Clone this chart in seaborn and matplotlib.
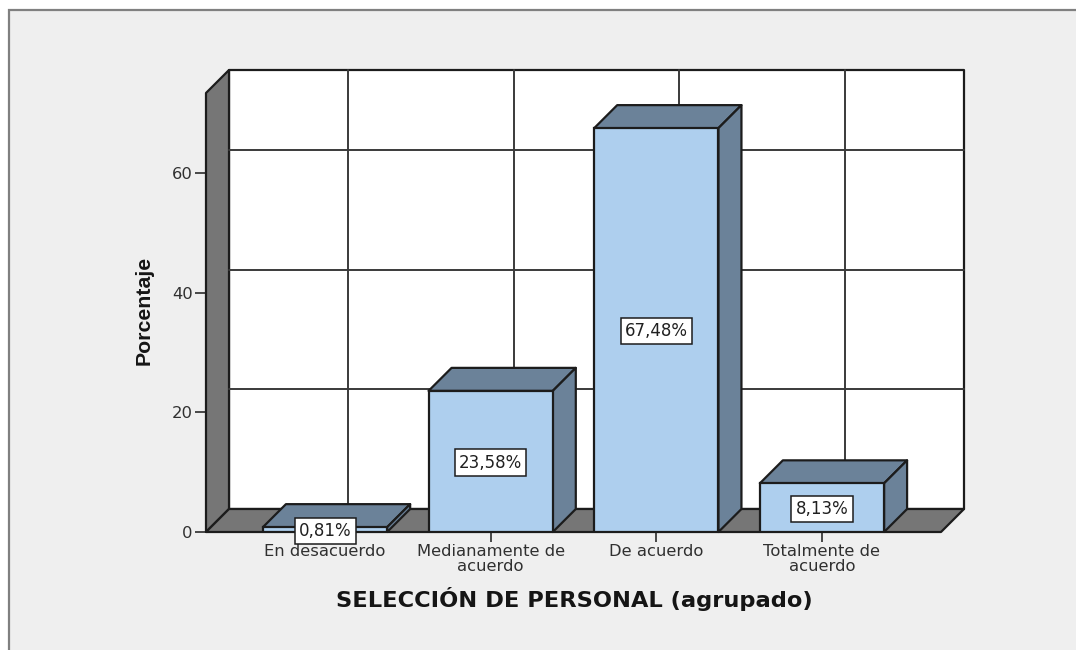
import matplotlib
matplotlib.use("Agg")
from matplotlib import pyplot as plt
from matplotlib.patches import Polygon, Rectangle
import seaborn as sns

categories = ["En desacuerdo", "Medianamente de\nacuerdo", "De acuerdo", "Totalmente de\nacuerdo"]
porcentajes = [0.81, 23.58, 67.48, 8.13]
etiquetas = ["0,81%", "23,58%", "67,48%", "8,13%"]
y_ticks = [0, 20, 40, 60]

BAR_COLOR = "#aecfee"
DARK_FACE = "#6b8299"
WALL_COLOR = "#767676"
PANEL_COLOR = "#efefef"
LINE_COLOR = "#1c1c1c"
GRID_COLOR = "#3a3a3a"

W, H = 1076, 650
LEFT, RIGHT, BOTTOM, TOP = 206, 941, 532, 93  # front plane, pixels
X_PER_CAT = 165.6
Y_PER_UNIT = 5.985
X_MARGIN = (325 - LEFT) / X_PER_CAT
DX = 23 / X_PER_CAT
DY = 23 / Y_PER_UNIT

sns.set_theme(style="white")
plt.rcParams["font.family"] = ["DejaVu Sans"]

fig = plt.figure(figsize=(W / 100, H / 100), dpi=100, facecolor="white")
fig.add_artist(Rectangle((9 / W, -0.01), 1.01, 1 - 10 / H + 0.01, transform=fig.transFigure,
                         facecolor=PANEL_COLOR, edgecolor="#808080", linewidth=1.6, zorder=-1))

ax = fig.add_axes([LEFT / W, 1 - BOTTOM / H, (RIGHT - LEFT) / W, (BOTTOM - TOP) / H])
ax.patch.set_visible(False)

sns.barplot(x=categories, y=porcentajes, ax=ax, width=0.75, color=BAR_COLOR, saturation=1,
            edgecolor=LINE_COLOR, linewidth=1.6, zorder=6)

xmin, xmax = -X_MARGIN, len(categories) - 1 + X_MARGIN
ymin, ymax = 0, (BOTTOM - TOP) / Y_PER_UNIT
ax.set_xlim(xmin, xmax)
ax.set_ylim(ymin, ymax)
sns.despine(ax=ax, left=True, bottom=True)

bars = list(ax.patches)


def face(points, color, z):
    ax.add_patch(Polygon(points, closed=True, facecolor=color, edgecolor=LINE_COLOR,
                         linewidth=1.6, joinstyle="round", clip_on=False, zorder=z))


# back wall, side wall and floor
face([(xmin + DX, ymin + DY), (xmax + DX, ymin + DY), (xmax + DX, ymax + DY), (xmin + DX, ymax + DY)], "white", 1)
face([(xmin, ymin), (xmin + DX, ymin + DY), (xmin + DX, ymax + DY), (xmin, ymax)], WALL_COLOR, 2)
face([(xmin, ymin), (xmax, ymin), (xmax + DX, ymin + DY), (xmin + DX, ymin + DY)], WALL_COLOR, 2)

# grid drawn on the back wall
for t in y_ticks[1:]:
    ax.plot([xmin + DX, xmax + DX], [t + DY, t + DY], color=GRID_COLOR, lw=1.4, clip_on=False, zorder=3)
for i in range(len(categories)):
    ax.plot([i + DX, i + DX], [ymin + DY, ymax + DY], color=GRID_COLOR, lw=1.4, clip_on=False, zorder=3)

# top and side of every bar
for bar in bars:
    x0, x1, h = bar.get_x(), bar.get_x() + bar.get_width(), bar.get_height()
    face([(x0, h), (x1, h), (x1 + DX, h + DY), (x0 + DX, h + DY)], DARK_FACE, 5)
    face([(x1, 0), (x1 + DX, DY), (x1 + DX, h + DY), (x1, h)], DARK_FACE, 5)

for i, (v, txt) in enumerate(zip(porcentajes, etiquetas)):
    ax.annotate(txt, (i, v / 2), xytext=(0, -0.8), textcoords="offset points", ha="center", va="center",
                fontsize=12, color="#202020", zorder=8,
                bbox=dict(boxstyle="square,pad=0.25", facecolor="white", edgecolor=LINE_COLOR, linewidth=1.1))

ax.set_xticks(range(len(categories)))
ax.set_xticklabels(categories, fontsize=11.8, color="#303030", linespacing=0.92)
ax.set_yticks(y_ticks)
ax.set_yticklabels(y_ticks, fontsize=11.8, color="#303030")
ax.tick_params(axis="x", length=7, width=1.3, color=GRID_COLOR, pad=2, bottom=True)
ax.tick_params(axis="y", length=8, width=1.3, color=GRID_COLOR, pad=1.5, left=True)

ax.set_xlabel("SELECCIÓN DE PERSONAL (agrupado)", fontsize=16.2, fontweight="bold", color="#151515", va="center")
ax.set_ylabel("Porcentaje", fontsize=15.3, fontweight="bold", color="#151515", va="center",
              family="Liberation Sans")
ax.xaxis.set_label_coords((574 - LEFT) / (RIGHT - LEFT), -(599 - BOTTOM) / (BOTTOM - TOP))
ax.yaxis.set_label_coords((144 - LEFT) / (RIGHT - LEFT), (BOTTOM - 310) / (BOTTOM - TOP))

fig.savefig("out.png", dpi=100)
